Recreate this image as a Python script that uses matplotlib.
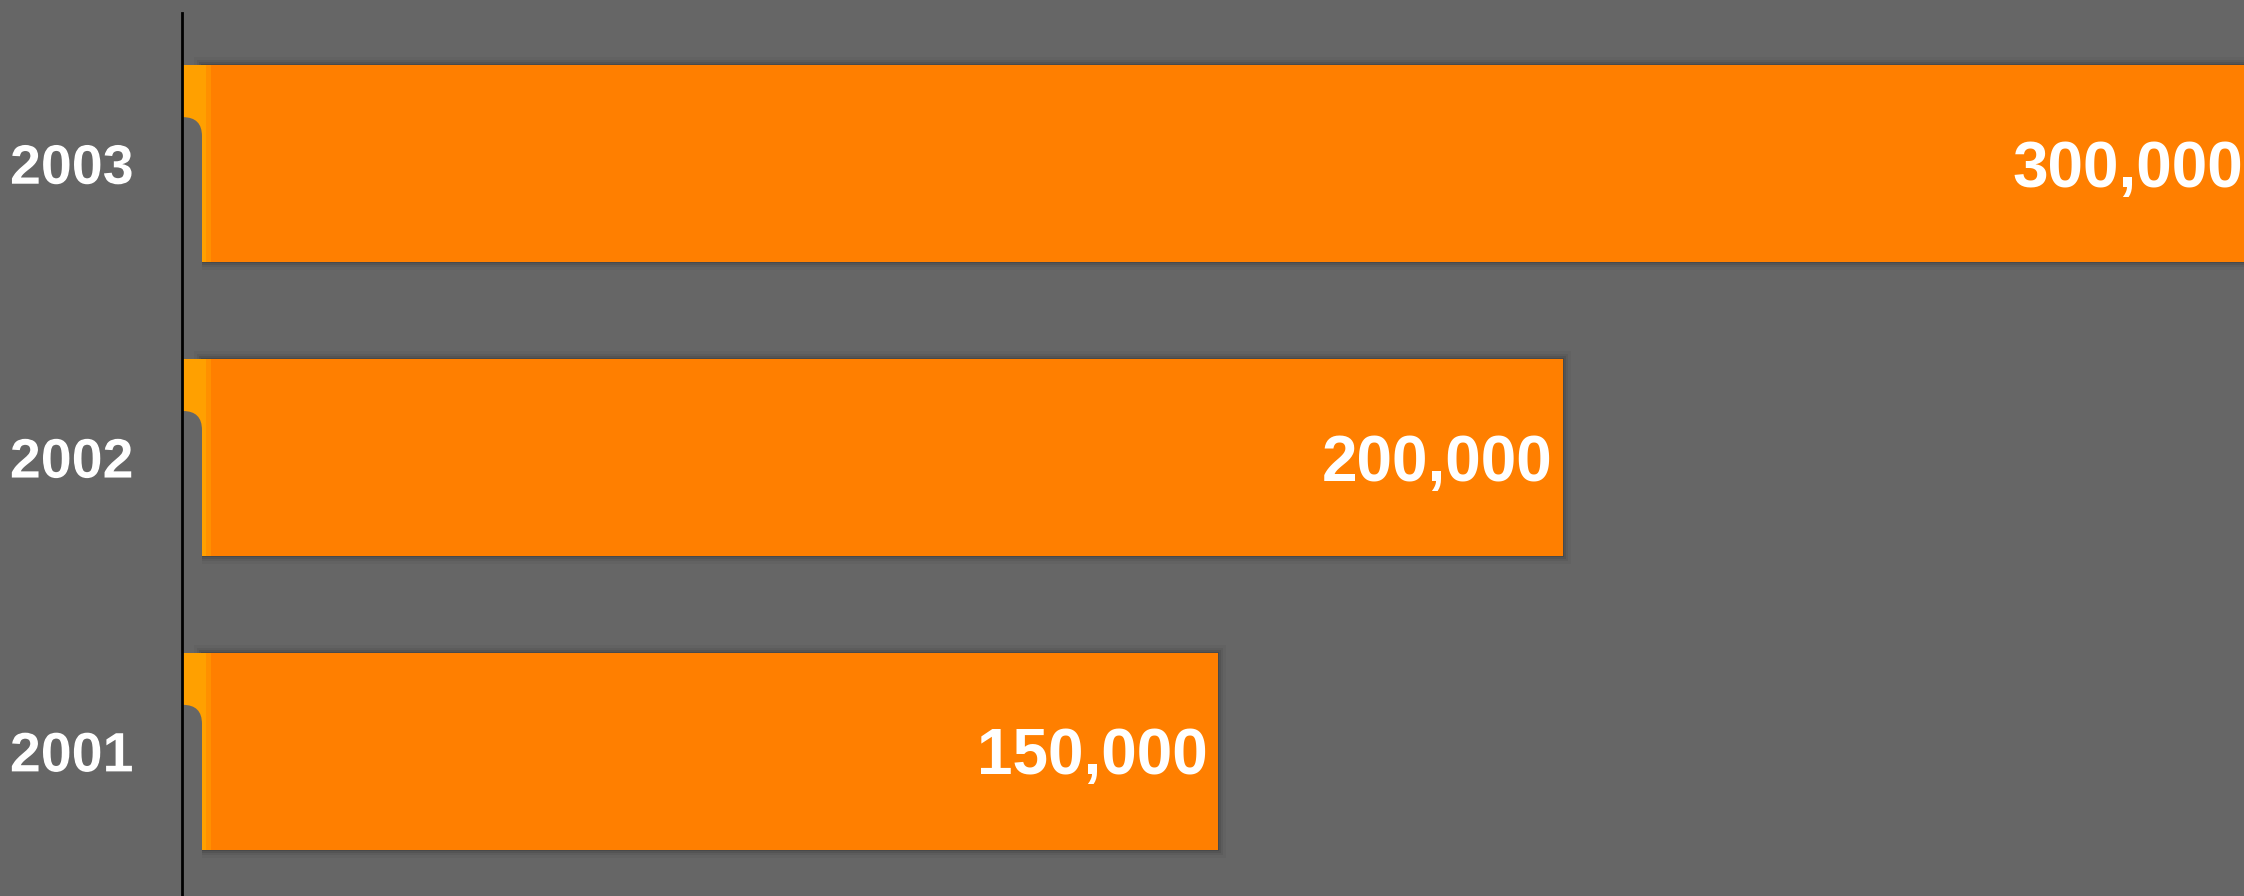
import matplotlib
matplotlib.use("Agg")
import matplotlib.pyplot as plt
from matplotlib.patches import Rectangle, FancyBboxPatch
import matplotlib.patheffects as pe

years = ["2001", "2002", "2003"]
values = [150000, 200000, 300000]

bg = "#666666"
orange = "#ff7f00"
light = "#ffa000"

fig = plt.figure(figsize=(22.44, 8.96), dpi=100, facecolor=bg)
ax = fig.add_axes([182 / 2244, 0, 1 - 182 / 2244, 1 - 13 / 896])
ax.set_facecolor(bg)

xmax = (2244 - 182) / (1381 / 200000)
ax.set_xlim(0, xmax)
ax.set_ylim(-0.492, 2.513)

h = 0.671
ux = xmax / (2244 - 182)       # data units per pixel in x
uy = 3.005 / 883               # data units per pixel in y
off = 20 * ux                  # bar body starts a bit right of the axis

for i, (yr, v) in enumerate(zip(years, values)):
    top = i + h / 2
    bot = i - h / 2
    # soft shadow
    for k, a in zip([8, 5, 3, 1], [0.04, 0.06, 0.08, 0.12]):
        ax.add_patch(Rectangle((off - k * ux, bot - k * uy), v - off + 2 * k * ux,
                               h + 2 * k * uy, color="black", alpha=a, lw=0, zorder=1))
    ax.barh(i, v - off, left=off, height=h, color=orange, zorder=2)
    # lighter strip at the left of the bar
    ax.add_patch(Rectangle((0, bot), 29 * ux, h, color="#ff9000", lw=0, zorder=3))
    ax.add_patch(Rectangle((0, bot), 24 * ux, h, color=light, lw=0, zorder=3))
    # curled cut-out below the tab
    cut_top = top - 52 * uy
    ax.add_patch(FancyBboxPatch((-30 * ux, bot - 30 * uy), 50 * ux, cut_top - bot + 30 * uy,
                                boxstyle="round,pad=0,rounding_size=%f" % (19 * ux),
                                mutation_aspect=uy / ux, color=bg, lw=0, zorder=4))
    ax.text(v - 10 * ux, i - 23 * uy, f"{v:,}", ha="right", va="baseline", color="white",
            fontsize=46, fontweight="bold", family="Liberation Sans", zorder=6)

ax.set_yticks(range(len(years)))
ax.set_yticklabels(years, fontsize=40, fontweight="bold", color="white",
                   family="Liberation Sans")
for t in ax.get_yticklabels():
    t.set_path_effects([pe.withSimplePatchShadow(offset=(0, 0), shadow_rgbFace="black", alpha=0.25)])
ax.tick_params(axis="y", length=0, pad=35)
ax.set_xticks([])
for s in ["top", "right", "bottom"]:
    ax.spines[s].set_visible(False)
ax.spines["left"].set_color("black")
ax.spines["left"].set_linewidth(2)
ax.spines["left"].set_zorder(7)

fig.savefig("out.png", dpi=100, facecolor=bg)
